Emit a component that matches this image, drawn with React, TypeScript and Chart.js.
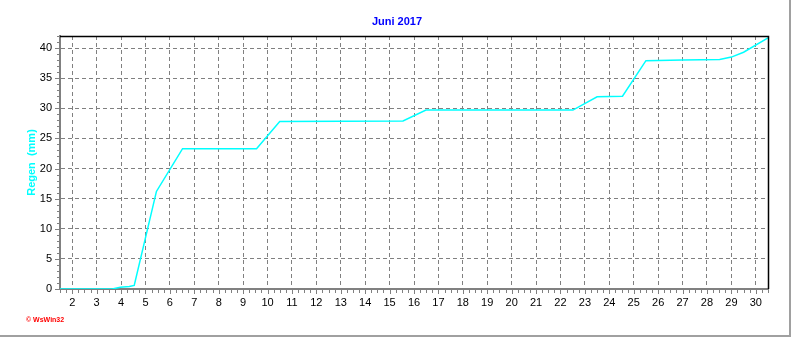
import React, { useEffect, useRef } from "react";
import { Chart, registerables } from "chart.js";

Chart.register(...registerables);

const titleText = "Juni 2017";
const yTitleText = "Regen  (mm)";
const creditText = "© WsWin32";

const dayTicks = [2, 3, 4, 5, 6, 7, 8, 9, 10, 11, 12, 13, 14, 15, 16, 17, 18, 19, 20, 21, 22, 23, 24, 25, 26, 27, 28, 29, 30];
const rainTicks = [0, 5, 10, 15, 20, 25, 30, 35, 40];

const dayPos = [1.5, 3.64, 3.97, 4.34, 4.54, 5.45, 6.52, 9.55, 10.5, 15.55, 16.49, 22.51, 23.5, 24.54, 25.5, 27.0, 28.52, 29.0, 29.5, 30.5];
const rainMm = [0, 0, 0.3, 0.4, 0.6, 16.2, 23.3, 23.3, 27.8, 27.9, 29.7, 29.7, 31.9, 32.0, 37.9, 38.0, 38.1, 38.5, 39.3, 41.7];

const FONT = "'Liberation Sans', Arial, sans-serif";

export default function App() {
  const ref = useRef<HTMLCanvasElement>(null);

  useEffect(() => {
    document.body.style.margin = "0";
    const canvas = ref.current;
    if (!canvas) return;

    const extras = {
      id: "extras",
      afterDraw(chart: any) {
        const ctx = chart.ctx as CanvasRenderingContext2D;
        const { left, right, top, bottom } = chart.chartArea;
        const xs = chart.scales.x;
        const ys = chart.scales.y;
        ctx.save();
        // minor ticks x
        ctx.strokeStyle = "#808080";
        ctx.lineWidth = 1;
        ctx.beginPath();
        for (let v = 1.5; v <= 30.5001; v += 0.25) {
          const px = Math.round(xs.getPixelForValue(v)) + 0.5;
          const isMajor = Math.abs(v - Math.round(v)) < 1e-6;
          ctx.moveTo(px, bottom + 1);
          ctx.lineTo(px, bottom + (isMajor ? 5 : 4));
        }
        // minor ticks y
        for (let v = 0; v <= 42; v += 1) {
          const py = Math.round(ys.getPixelForValue(v)) + 0.5;
          const isMajor = v % 5 === 0;
          ctx.moveTo(left - 1, py);
          ctx.lineTo(left - (isMajor ? 5 : 3), py);
        }
        ctx.stroke();

        // plot frame top/right
        ctx.strokeStyle = "#000000";
        ctx.lineWidth = 1.5;
        ctx.beginPath();
        ctx.moveTo(left, top + 0.5);
        ctx.lineTo(right + 0.5, top + 0.5);
        ctx.lineTo(right + 0.5, bottom);
        ctx.stroke();

        // outer frame right/bottom
        ctx.strokeStyle = "#a0a0a0";
        ctx.lineWidth = 2;
        ctx.beginPath();
        ctx.moveTo(790, 0);
        ctx.lineTo(790, 336);
        ctx.moveTo(0, 336);
        ctx.lineTo(791, 336);
        ctx.stroke();

        // title
        ctx.fillStyle = "#0000ff";
        ctx.font = `bold 11px ${FONT}`;
        ctx.textAlign = "center";
        ctx.textBaseline = "middle";
        ctx.fillText(titleText, 397, 22);

        // y title
        ctx.save();
        ctx.translate(32, (top + bottom) / 2);
        ctx.rotate(-Math.PI / 2);
        ctx.fillStyle = "#00ffff";
        ctx.font = `bold 11px ${FONT}`;
        ctx.fillText(yTitleText, 0, 0);
        ctx.restore();

        // credit
        ctx.fillStyle = "#ff0000";
        ctx.font = `bold 7px ${FONT}`;
        ctx.textAlign = "left";
        ctx.textBaseline = "middle";
        ctx.fillText(creditText, 26, 320);
        ctx.restore();
      },
    };

    const chart = new Chart(canvas, {
      type: "line",
      data: {
        datasets: [
          {
            data: dayPos.map((x, i) => ({ x, y: rainMm[i] })),
            borderColor: "#00ffff",
            borderWidth: 1.5,
            pointRadius: 0,
            tension: 0,
            fill: false,
          },
        ],
      },
      options: {
        responsive: false,
        animation: false,
        devicePixelRatio: 1,
        layout: { padding: { top: 36, right: 24, left: 0, bottom: 0 } },
        plugins: {
          legend: { display: false },
          tooltip: { enabled: false },
          title: { display: false },
        },
        scales: {
          x: {
            type: "linear",
            min: 1.5,
            max: 30.5,
            afterBuildTicks: (s: any) => {
              s.ticks = dayTicks.map((v) => ({ value: v }));
            },
            afterFit: (s: any) => {
              s.height = 48;
            },
            ticks: {
              autoSkip: false,
              maxRotation: 0,
              padding: 7,
              color: "#000000",
              font: { family: FONT, size: 11 },
            },
            grid: { color: "#808080", lineWidth: 1, drawTicks: false },
            border: { display: true, color: "#808080", width: 2, dash: [4, 3] },
          },
          y: {
            type: "linear",
            min: 0,
            max: 42,
            afterBuildTicks: (s: any) => {
              s.ticks = rainTicks.map((v) => ({ value: v }));
            },
            afterFit: (s: any) => {
              s.width = 60;
            },
            ticks: {
              padding: 8,
              color: "#000000",
              font: { family: FONT, size: 11 },
            },
            grid: { color: "#808080", lineWidth: 1, drawTicks: false },
            border: { display: true, color: "#808080", width: 2, dash: [4, 3] },
          },
        },
      },
      plugins: [extras],
    } as any);

    return () => chart.destroy();
  }, []);

  return (
    <div style={{ width: 792, height: 337, background: "#ffffff" }}>
      <canvas ref={ref} width={792} height={337} style={{ display: "block" }} />
    </div>
  );
}
